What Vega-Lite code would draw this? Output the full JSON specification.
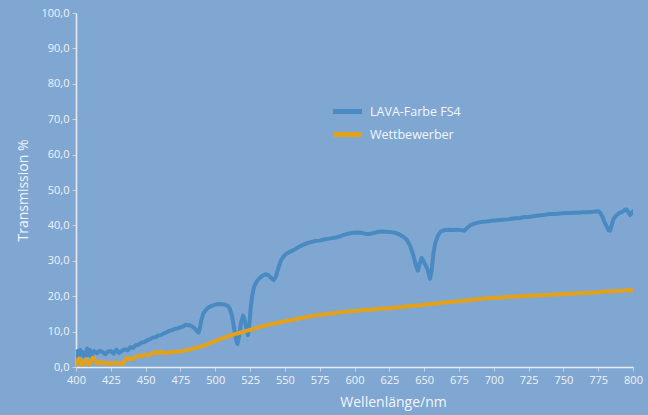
{
  "$schema": "https://vega.github.io/schema/vega-lite/v6.json",
  "width": 557,
  "height": 354,
  "autosize": {"type": "none"},
  "padding": {"left": 76, "top": 13, "right": 15, "bottom": 48},
  "background": "#80A7D2",
  "config": {
    "view": {"stroke": null},
    "font": "Open Sans",
    "axis": {"grid": false, "labelFont": "Open Sans", "titleFont": "Open Sans", "titleFontWeight": "normal", "labelFlush": false, "labelOverlap": false}
  },
  "data": {"values": [
    {"wl":400,"t":2.0,"s":"LAVA-Farbe FS4"},{"wl":401,"t":4.5,"s":"LAVA-Farbe FS4"},{"wl":402,"t":3.0,"s":"LAVA-Farbe FS4"},{"wl":403,"t":4.8,"s":"LAVA-Farbe FS4"},{"wl":404,"t":3.5,"s":"LAVA-Farbe FS4"},{"wl":405,"t":4.2,"s":"LAVA-Farbe FS4"},{"wl":406,"t":2.8,"s":"LAVA-Farbe FS4"},{"wl":407,"t":3.2,"s":"LAVA-Farbe FS4"},{"wl":408,"t":5.2,"s":"LAVA-Farbe FS4"},{"wl":409,"t":3.4,"s":"LAVA-Farbe FS4"},{"wl":410,"t":4.8,"s":"LAVA-Farbe FS4"},{"wl":411,"t":2.9,"s":"LAVA-Farbe FS4"},{"wl":412,"t":3.8,"s":"LAVA-Farbe FS4"},{"wl":413,"t":4.5,"s":"LAVA-Farbe FS4"},{"wl":415,"t":3.9,"s":"LAVA-Farbe FS4"},{"wl":417,"t":4.6,"s":"LAVA-Farbe FS4"},{"wl":419,"t":4.2,"s":"LAVA-Farbe FS4"},{"wl":421,"t":3.6,"s":"LAVA-Farbe FS4"},{"wl":423,"t":4.4,"s":"LAVA-Farbe FS4"},{"wl":425,"t":4.5,"s":"LAVA-Farbe FS4"},{"wl":427,"t":3.8,"s":"LAVA-Farbe FS4"},{"wl":429,"t":4.9,"s":"LAVA-Farbe FS4"},{"wl":431,"t":4.0,"s":"LAVA-Farbe FS4"},{"wl":433,"t":4.6,"s":"LAVA-Farbe FS4"},{"wl":435,"t":5.0,"s":"LAVA-Farbe FS4"},{"wl":437,"t":4.7,"s":"LAVA-Farbe FS4"},{"wl":439,"t":5.6,"s":"LAVA-Farbe FS4"},{"wl":441,"t":5.4,"s":"LAVA-Farbe FS4"},{"wl":443,"t":6.2,"s":"LAVA-Farbe FS4"},{"wl":445,"t":6.3,"s":"LAVA-Farbe FS4"},{"wl":447,"t":6.9,"s":"LAVA-Farbe FS4"},{"wl":449,"t":7.0,"s":"LAVA-Farbe FS4"},{"wl":451,"t":7.5,"s":"LAVA-Farbe FS4"},{"wl":453,"t":7.8,"s":"LAVA-Farbe FS4"},{"wl":455,"t":8.3,"s":"LAVA-Farbe FS4"},{"wl":457,"t":8.4,"s":"LAVA-Farbe FS4"},{"wl":459,"t":8.9,"s":"LAVA-Farbe FS4"},{"wl":461,"t":9.0,"s":"LAVA-Farbe FS4"},{"wl":463,"t":9.5,"s":"LAVA-Farbe FS4"},{"wl":465,"t":9.8,"s":"LAVA-Farbe FS4"},{"wl":467,"t":10.2,"s":"LAVA-Farbe FS4"},{"wl":469,"t":10.4,"s":"LAVA-Farbe FS4"},{"wl":471,"t":10.8,"s":"LAVA-Farbe FS4"},{"wl":473,"t":10.9,"s":"LAVA-Farbe FS4"},{"wl":475,"t":11.2,"s":"LAVA-Farbe FS4"},{"wl":477,"t":11.5,"s":"LAVA-Farbe FS4"},{"wl":479,"t":11.9,"s":"LAVA-Farbe FS4"},{"wl":481,"t":11.8,"s":"LAVA-Farbe FS4"},{"wl":483,"t":11.6,"s":"LAVA-Farbe FS4"},{"wl":485,"t":11.0,"s":"LAVA-Farbe FS4"},{"wl":486.5,"t":10.3,"s":"LAVA-Farbe FS4"},{"wl":488,"t":9.7,"s":"LAVA-Farbe FS4"},{"wl":489,"t":11.0,"s":"LAVA-Farbe FS4"},{"wl":490,"t":13.2,"s":"LAVA-Farbe FS4"},{"wl":491.5,"t":15.2,"s":"LAVA-Farbe FS4"},{"wl":493,"t":16.0,"s":"LAVA-Farbe FS4"},{"wl":495,"t":16.8,"s":"LAVA-Farbe FS4"},{"wl":497,"t":17.2,"s":"LAVA-Farbe FS4"},{"wl":499,"t":17.5,"s":"LAVA-Farbe FS4"},{"wl":501,"t":17.7,"s":"LAVA-Farbe FS4"},{"wl":503,"t":17.8,"s":"LAVA-Farbe FS4"},{"wl":505,"t":17.7,"s":"LAVA-Farbe FS4"},{"wl":507,"t":17.6,"s":"LAVA-Farbe FS4"},{"wl":509,"t":17.3,"s":"LAVA-Farbe FS4"},{"wl":510.5,"t":16.5,"s":"LAVA-Farbe FS4"},{"wl":512,"t":14.5,"s":"LAVA-Farbe FS4"},{"wl":513.5,"t":11.0,"s":"LAVA-Farbe FS4"},{"wl":515,"t":7.5,"s":"LAVA-Farbe FS4"},{"wl":516,"t":6.5,"s":"LAVA-Farbe FS4"},{"wl":517,"t":8.5,"s":"LAVA-Farbe FS4"},{"wl":518.5,"t":12.5,"s":"LAVA-Farbe FS4"},{"wl":520,"t":14.5,"s":"LAVA-Farbe FS4"},{"wl":521,"t":13.5,"s":"LAVA-Farbe FS4"},{"wl":522.5,"t":10.5,"s":"LAVA-Farbe FS4"},{"wl":523.5,"t":9.0,"s":"LAVA-Farbe FS4"},{"wl":524.5,"t":12.0,"s":"LAVA-Farbe FS4"},{"wl":525.5,"t":17.0,"s":"LAVA-Farbe FS4"},{"wl":526.5,"t":20.0,"s":"LAVA-Farbe FS4"},{"wl":528,"t":22.8,"s":"LAVA-Farbe FS4"},{"wl":530,"t":24.3,"s":"LAVA-Farbe FS4"},{"wl":532,"t":25.2,"s":"LAVA-Farbe FS4"},{"wl":534,"t":25.8,"s":"LAVA-Farbe FS4"},{"wl":536,"t":26.2,"s":"LAVA-Farbe FS4"},{"wl":538,"t":26.0,"s":"LAVA-Farbe FS4"},{"wl":540,"t":25.2,"s":"LAVA-Farbe FS4"},{"wl":542,"t":24.6,"s":"LAVA-Farbe FS4"},{"wl":543.5,"t":25.5,"s":"LAVA-Farbe FS4"},{"wl":545,"t":27.5,"s":"LAVA-Farbe FS4"},{"wl":547,"t":30.0,"s":"LAVA-Farbe FS4"},{"wl":549,"t":31.2,"s":"LAVA-Farbe FS4"},{"wl":551,"t":32.0,"s":"LAVA-Farbe FS4"},{"wl":554,"t":32.6,"s":"LAVA-Farbe FS4"},{"wl":557,"t":33.2,"s":"LAVA-Farbe FS4"},{"wl":560,"t":33.9,"s":"LAVA-Farbe FS4"},{"wl":563,"t":34.5,"s":"LAVA-Farbe FS4"},{"wl":566,"t":35.0,"s":"LAVA-Farbe FS4"},{"wl":569,"t":35.3,"s":"LAVA-Farbe FS4"},{"wl":572,"t":35.6,"s":"LAVA-Farbe FS4"},{"wl":575,"t":35.7,"s":"LAVA-Farbe FS4"},{"wl":578,"t":36.0,"s":"LAVA-Farbe FS4"},{"wl":581,"t":36.2,"s":"LAVA-Farbe FS4"},{"wl":584,"t":36.4,"s":"LAVA-Farbe FS4"},{"wl":587,"t":36.6,"s":"LAVA-Farbe FS4"},{"wl":590,"t":37.0,"s":"LAVA-Farbe FS4"},{"wl":593,"t":37.4,"s":"LAVA-Farbe FS4"},{"wl":596,"t":37.7,"s":"LAVA-Farbe FS4"},{"wl":599,"t":37.9,"s":"LAVA-Farbe FS4"},{"wl":602,"t":38.0,"s":"LAVA-Farbe FS4"},{"wl":605,"t":37.9,"s":"LAVA-Farbe FS4"},{"wl":608,"t":37.6,"s":"LAVA-Farbe FS4"},{"wl":611,"t":37.6,"s":"LAVA-Farbe FS4"},{"wl":614,"t":37.9,"s":"LAVA-Farbe FS4"},{"wl":617,"t":38.2,"s":"LAVA-Farbe FS4"},{"wl":620,"t":38.3,"s":"LAVA-Farbe FS4"},{"wl":623,"t":38.2,"s":"LAVA-Farbe FS4"},{"wl":626,"t":38.1,"s":"LAVA-Farbe FS4"},{"wl":629,"t":37.9,"s":"LAVA-Farbe FS4"},{"wl":632,"t":37.5,"s":"LAVA-Farbe FS4"},{"wl":635,"t":36.8,"s":"LAVA-Farbe FS4"},{"wl":637.5,"t":36.0,"s":"LAVA-Farbe FS4"},{"wl":640,"t":34.2,"s":"LAVA-Farbe FS4"},{"wl":642,"t":31.9,"s":"LAVA-Farbe FS4"},{"wl":644,"t":28.8,"s":"LAVA-Farbe FS4"},{"wl":645.5,"t":27.2,"s":"LAVA-Farbe FS4"},{"wl":647,"t":29.5,"s":"LAVA-Farbe FS4"},{"wl":648.2,"t":30.8,"s":"LAVA-Farbe FS4"},{"wl":649.5,"t":30.0,"s":"LAVA-Farbe FS4"},{"wl":651,"t":28.8,"s":"LAVA-Farbe FS4"},{"wl":652.5,"t":27.5,"s":"LAVA-Farbe FS4"},{"wl":654.2,"t":24.9,"s":"LAVA-Farbe FS4"},{"wl":655.5,"t":27.5,"s":"LAVA-Farbe FS4"},{"wl":656.6,"t":32.0,"s":"LAVA-Farbe FS4"},{"wl":658,"t":35.0,"s":"LAVA-Farbe FS4"},{"wl":660,"t":37.2,"s":"LAVA-Farbe FS4"},{"wl":662,"t":38.3,"s":"LAVA-Farbe FS4"},{"wl":665,"t":38.7,"s":"LAVA-Farbe FS4"},{"wl":668,"t":38.8,"s":"LAVA-Farbe FS4"},{"wl":671,"t":38.7,"s":"LAVA-Farbe FS4"},{"wl":674,"t":38.8,"s":"LAVA-Farbe FS4"},{"wl":677,"t":38.6,"s":"LAVA-Farbe FS4"},{"wl":679,"t":38.5,"s":"LAVA-Farbe FS4"},{"wl":681,"t":39.3,"s":"LAVA-Farbe FS4"},{"wl":683,"t":40.0,"s":"LAVA-Farbe FS4"},{"wl":686,"t":40.5,"s":"LAVA-Farbe FS4"},{"wl":689,"t":40.8,"s":"LAVA-Farbe FS4"},{"wl":692,"t":41.0,"s":"LAVA-Farbe FS4"},{"wl":695,"t":41.1,"s":"LAVA-Farbe FS4"},{"wl":698,"t":41.3,"s":"LAVA-Farbe FS4"},{"wl":701,"t":41.4,"s":"LAVA-Farbe FS4"},{"wl":704,"t":41.5,"s":"LAVA-Farbe FS4"},{"wl":707,"t":41.6,"s":"LAVA-Farbe FS4"},{"wl":710,"t":41.7,"s":"LAVA-Farbe FS4"},{"wl":713,"t":41.9,"s":"LAVA-Farbe FS4"},{"wl":716,"t":42.0,"s":"LAVA-Farbe FS4"},{"wl":719,"t":42.1,"s":"LAVA-Farbe FS4"},{"wl":722,"t":42.4,"s":"LAVA-Farbe FS4"},{"wl":725,"t":42.4,"s":"LAVA-Farbe FS4"},{"wl":728,"t":42.6,"s":"LAVA-Farbe FS4"},{"wl":731,"t":42.7,"s":"LAVA-Farbe FS4"},{"wl":734,"t":42.9,"s":"LAVA-Farbe FS4"},{"wl":737,"t":43.0,"s":"LAVA-Farbe FS4"},{"wl":740,"t":43.2,"s":"LAVA-Farbe FS4"},{"wl":743,"t":43.2,"s":"LAVA-Farbe FS4"},{"wl":746,"t":43.3,"s":"LAVA-Farbe FS4"},{"wl":749,"t":43.4,"s":"LAVA-Farbe FS4"},{"wl":752,"t":43.5,"s":"LAVA-Farbe FS4"},{"wl":755,"t":43.5,"s":"LAVA-Farbe FS4"},{"wl":758,"t":43.6,"s":"LAVA-Farbe FS4"},{"wl":761,"t":43.6,"s":"LAVA-Farbe FS4"},{"wl":764,"t":43.7,"s":"LAVA-Farbe FS4"},{"wl":767,"t":43.7,"s":"LAVA-Farbe FS4"},{"wl":770,"t":43.8,"s":"LAVA-Farbe FS4"},{"wl":773,"t":43.9,"s":"LAVA-Farbe FS4"},{"wl":775,"t":44.0,"s":"LAVA-Farbe FS4"},{"wl":776.5,"t":43.6,"s":"LAVA-Farbe FS4"},{"wl":778,"t":42.5,"s":"LAVA-Farbe FS4"},{"wl":779.5,"t":41.0,"s":"LAVA-Farbe FS4"},{"wl":781,"t":39.8,"s":"LAVA-Farbe FS4"},{"wl":782.5,"t":38.6,"s":"LAVA-Farbe FS4"},{"wl":783.5,"t":38.5,"s":"LAVA-Farbe FS4"},{"wl":784.5,"t":39.8,"s":"LAVA-Farbe FS4"},{"wl":786,"t":41.8,"s":"LAVA-Farbe FS4"},{"wl":788,"t":42.8,"s":"LAVA-Farbe FS4"},{"wl":790.5,"t":43.6,"s":"LAVA-Farbe FS4"},{"wl":792.5,"t":43.8,"s":"LAVA-Farbe FS4"},{"wl":794,"t":44.4,"s":"LAVA-Farbe FS4"},{"wl":795.5,"t":44.5,"s":"LAVA-Farbe FS4"},{"wl":797,"t":43.5,"s":"LAVA-Farbe FS4"},{"wl":798,"t":42.9,"s":"LAVA-Farbe FS4"},{"wl":799,"t":43.5,"s":"LAVA-Farbe FS4"},{"wl":800,"t":44.0,"s":"LAVA-Farbe FS4"},
    {"wl":400,"t":0.5,"s":"Wettbewerber"},{"wl":401,"t":1.8,"s":"Wettbewerber"},{"wl":402,"t":2.4,"s":"Wettbewerber"},{"wl":403,"t":1.2,"s":"Wettbewerber"},{"wl":404,"t":0.6,"s":"Wettbewerber"},{"wl":405,"t":1.0,"s":"Wettbewerber"},{"wl":406,"t":1.8,"s":"Wettbewerber"},{"wl":407,"t":2.2,"s":"Wettbewerber"},{"wl":408,"t":1.2,"s":"Wettbewerber"},{"wl":409,"t":0.6,"s":"Wettbewerber"},{"wl":410,"t":1.0,"s":"Wettbewerber"},{"wl":411,"t":1.9,"s":"Wettbewerber"},{"wl":412,"t":2.6,"s":"Wettbewerber"},{"wl":413,"t":2.4,"s":"Wettbewerber"},{"wl":414,"t":1.5,"s":"Wettbewerber"},{"wl":415,"t":1.2,"s":"Wettbewerber"},{"wl":416,"t":1.0,"s":"Wettbewerber"},{"wl":418,"t":1.5,"s":"Wettbewerber"},{"wl":420,"t":1.0,"s":"Wettbewerber"},{"wl":422,"t":1.3,"s":"Wettbewerber"},{"wl":424,"t":0.8,"s":"Wettbewerber"},{"wl":426,"t":1.2,"s":"Wettbewerber"},{"wl":428,"t":0.9,"s":"Wettbewerber"},{"wl":430,"t":1.3,"s":"Wettbewerber"},{"wl":432,"t":0.8,"s":"Wettbewerber"},{"wl":434,"t":1.0,"s":"Wettbewerber"},{"wl":435.5,"t":2.2,"s":"Wettbewerber"},{"wl":437,"t":2.6,"s":"Wettbewerber"},{"wl":439,"t":2.1,"s":"Wettbewerber"},{"wl":441,"t":2.3,"s":"Wettbewerber"},{"wl":443,"t":2.9,"s":"Wettbewerber"},{"wl":445,"t":3.2,"s":"Wettbewerber"},{"wl":447,"t":3.0,"s":"Wettbewerber"},{"wl":449,"t":3.5,"s":"Wettbewerber"},{"wl":451,"t":3.3,"s":"Wettbewerber"},{"wl":453,"t":3.4,"s":"Wettbewerber"},{"wl":455,"t":3.9,"s":"Wettbewerber"},{"wl":457,"t":4.3,"s":"Wettbewerber"},{"wl":459,"t":3.8,"s":"Wettbewerber"},{"wl":461,"t":4.4,"s":"Wettbewerber"},{"wl":463,"t":4.0,"s":"Wettbewerber"},{"wl":465,"t":3.9,"s":"Wettbewerber"},{"wl":467,"t":4.2,"s":"Wettbewerber"},{"wl":469,"t":4.3,"s":"Wettbewerber"},{"wl":471,"t":4.2,"s":"Wettbewerber"},{"wl":473,"t":4.4,"s":"Wettbewerber"},{"wl":475,"t":4.4,"s":"Wettbewerber"},{"wl":477,"t":4.5,"s":"Wettbewerber"},{"wl":479,"t":4.7,"s":"Wettbewerber"},{"wl":481,"t":4.9,"s":"Wettbewerber"},{"wl":484,"t":5.2,"s":"Wettbewerber"},{"wl":487,"t":5.5,"s":"Wettbewerber"},{"wl":490,"t":5.8,"s":"Wettbewerber"},{"wl":493,"t":6.2,"s":"Wettbewerber"},{"wl":496,"t":6.7,"s":"Wettbewerber"},{"wl":499,"t":7.2,"s":"Wettbewerber"},{"wl":502,"t":7.6,"s":"Wettbewerber"},{"wl":505,"t":8.1,"s":"Wettbewerber"},{"wl":508,"t":8.5,"s":"Wettbewerber"},{"wl":511,"t":8.9,"s":"Wettbewerber"},{"wl":514,"t":9.3,"s":"Wettbewerber"},{"wl":517,"t":9.6,"s":"Wettbewerber"},{"wl":520,"t":9.9,"s":"Wettbewerber"},{"wl":525,"t":10.5,"s":"Wettbewerber"},{"wl":530,"t":11.1,"s":"Wettbewerber"},{"wl":535,"t":11.6,"s":"Wettbewerber"},{"wl":540,"t":12.1,"s":"Wettbewerber"},{"wl":545,"t":12.5,"s":"Wettbewerber"},{"wl":550,"t":12.9,"s":"Wettbewerber"},{"wl":555,"t":13.3,"s":"Wettbewerber"},{"wl":560,"t":13.7,"s":"Wettbewerber"},{"wl":565,"t":14.1,"s":"Wettbewerber"},{"wl":570,"t":14.5,"s":"Wettbewerber"},{"wl":575,"t":14.7,"s":"Wettbewerber"},{"wl":580,"t":15.0,"s":"Wettbewerber"},{"wl":585,"t":15.2,"s":"Wettbewerber"},{"wl":590,"t":15.5,"s":"Wettbewerber"},{"wl":595,"t":15.7,"s":"Wettbewerber"},{"wl":600,"t":15.8,"s":"Wettbewerber"},{"wl":605,"t":16.0,"s":"Wettbewerber"},{"wl":610,"t":16.2,"s":"Wettbewerber"},{"wl":615,"t":16.3,"s":"Wettbewerber"},{"wl":620,"t":16.5,"s":"Wettbewerber"},{"wl":625,"t":16.6,"s":"Wettbewerber"},{"wl":630,"t":16.8,"s":"Wettbewerber"},{"wl":635,"t":17.0,"s":"Wettbewerber"},{"wl":640,"t":17.2,"s":"Wettbewerber"},{"wl":645,"t":17.4,"s":"Wettbewerber"},{"wl":650,"t":17.6,"s":"Wettbewerber"},{"wl":655,"t":17.8,"s":"Wettbewerber"},{"wl":660,"t":18.0,"s":"Wettbewerber"},{"wl":665,"t":18.2,"s":"Wettbewerber"},{"wl":670,"t":18.4,"s":"Wettbewerber"},{"wl":675,"t":18.6,"s":"Wettbewerber"},{"wl":680,"t":18.8,"s":"Wettbewerber"},{"wl":685,"t":19.0,"s":"Wettbewerber"},{"wl":690,"t":19.2,"s":"Wettbewerber"},{"wl":695,"t":19.4,"s":"Wettbewerber"},{"wl":700,"t":19.5,"s":"Wettbewerber"},{"wl":705,"t":19.6,"s":"Wettbewerber"},{"wl":710,"t":19.8,"s":"Wettbewerber"},{"wl":715,"t":19.9,"s":"Wettbewerber"},{"wl":720,"t":20.0,"s":"Wettbewerber"},{"wl":725,"t":20.1,"s":"Wettbewerber"},{"wl":730,"t":20.2,"s":"Wettbewerber"},{"wl":735,"t":20.3,"s":"Wettbewerber"},{"wl":740,"t":20.4,"s":"Wettbewerber"},{"wl":745,"t":20.5,"s":"Wettbewerber"},{"wl":750,"t":20.6,"s":"Wettbewerber"},{"wl":755,"t":20.7,"s":"Wettbewerber"},{"wl":760,"t":20.8,"s":"Wettbewerber"},{"wl":765,"t":20.9,"s":"Wettbewerber"},{"wl":770,"t":21.0,"s":"Wettbewerber"},{"wl":775,"t":21.1,"s":"Wettbewerber"},{"wl":780,"t":21.3,"s":"Wettbewerber"},{"wl":785,"t":21.4,"s":"Wettbewerber"},{"wl":790,"t":21.5,"s":"Wettbewerber"},{"wl":795,"t":21.6,"s":"Wettbewerber"},{"wl":798,"t":21.8,"s":"Wettbewerber"},{"wl":800,"t":21.5,"s":"Wettbewerber"}
  ]},
  "mark": {"type": "line", "strokeWidth": 4, "strokeJoin": "round", "strokeCap": "round", "clip": true},
  "encoding": {
    "x": {
      "field": "wl", "type": "quantitative",
      "scale": {"domain": [400, 800], "nice": false, "zero": false},
      "axis": {
        "values": [400,425,450,475,500,525,550,575,600,625,650,675,700,725,750,775,800],
        "title": "Wellenlänge/nm",
        "domainColor": "#E6EDF6", "domainWidth": 1.5,
        "tickColor": "#C9D2DD", "tickSize": 4, "tickWidth": 1,
        "labelColor": "#EEF3F9", "labelFontSize": 11, "labelPadding": 3,
        "titleColor": "#F2F6FB", "titleFontSize": 14, "titlePadding": 10,
        "titleX": 317
      }
    },
    "y": {
      "field": "t", "type": "quantitative",
      "scale": {"domain": [0, 100], "nice": false},
      "axis": {
        "values": [0,10,20,30,40,50,60,70,80,90,100],
        "labelExpr": "replace(format(datum.value, '.1f'), '.', ',')",
        "title": "Transmission %",
        "domainColor": "#E6EDF6", "domainWidth": 1.5,
        "tickColor": "#C9D2DD", "tickSize": 4, "tickWidth": 1,
        "labelColor": "#EEF3F9", "labelFontSize": 11, "labelPadding": 3,
        "titleColor": "#F2F6FB", "titleFontSize": 14, "titlePadding": 10
      }
    },
    "color": {
      "field": "s", "type": "nominal",
      "scale": {"domain": ["LAVA-Farbe FS4", "Wettbewerber"], "range": ["#4A8AC2", "#E3A11A"]},
      "legend": {
        "title": null, "orient": "none", "legendX": 259, "legendY": 86,
        "symbolType": "M-1.45,0H1.45", "symbolSize": 400, "symbolStrokeWidth": 5,
        "labelFont": "Open Sans", "labelFontSize": 12.5, "labelColor": "#F2F6FB",
        "labelOffset": 10, "rowPadding": 0
      }
    }
  }
}
